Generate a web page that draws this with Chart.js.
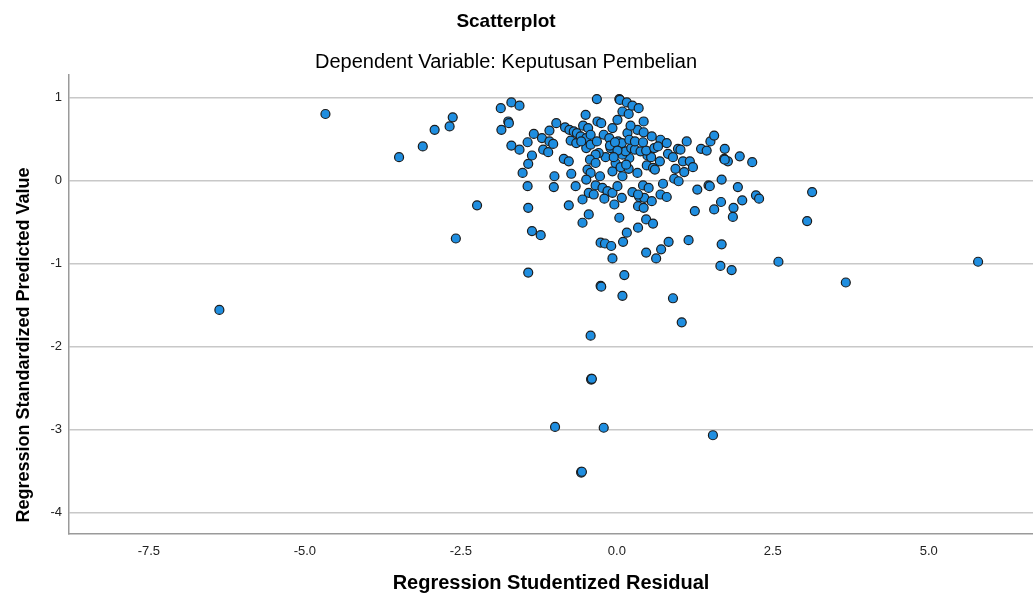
<!DOCTYPE html>
<html>
<head>
<meta charset="utf-8">
<title>Scatterplot</title>
<script src="https://cdn.jsdelivr.net/npm/chart.js@4/dist/chart.umd.min.js"></script>
<style>
  html, body { margin: 0; padding: 0; background: #fff; }
  #wrap { width: 1033px; height: 600px; }
</style>
</head>
<body>
<div id="wrap"><canvas id="scatter" width="1033" height="600"></canvas></div>
<script>
// Scatterplot of studentized residuals vs standardized predicted values
const TITLE = "Scatterplot";
const SUBTITLE = "Dependent Variable: Keputusan Pembelian";
const X_TITLE = "Regression Studentized Residual";
const Y_TITLE = "Regression Standardized Predicted Value";

const xTicks = [-7.5, -5.0, -2.5, 0.0, 2.5, 5.0];
const yTicks = [-4, -3, -2, -1, 0, 1];

// one entry per case
const residuals = [
  -6.37, -4.67, -3.49, -3.11, -2.92, -2.68, -2.63, -2.24, -2.58,
  -1.86, -1.69, -1.56, -1.74, -1.73, -1.85, -1.69, -1.56, -1.43, -1.33, -1.36, -1.42, -1.51, -1.43, -1.42, -1.36, -1.22, -1.42,
  -1.20, -1.08, -1.02, -1.18, -1.10, -1.08, -0.97, -0.85, -0.77, -1.00, -1.01, -0.73, -0.66, -0.77,
  -0.83, -0.76, -0.69, -0.64, -0.74, -0.65, -0.58, -0.50, -0.54, -0.46, -0.49, -0.42, -0.49, -0.42, -0.32, -0.31, -0.25, -0.32,
  -0.21, -0.12, -0.07, 0.01, -0.10, -0.18, -0.29, -0.34, -0.43, -0.34, -0.47, -0.42, -0.49, -0.34, -0.23, -0.15, -0.07, -0.45,
  -0.37, -0.55, -0.20, -0.04, -0.45, -0.55, -0.27, -0.07, -0.02, 0.06, 0.01, 0.09, 0.08, 0.04, -0.26, -0.19, -0.09, -0.07,
  0.12, 0.10, 0.16, 0.34, 0.47, 0.58, 0.47, 0.63, 0.71, 0.83, 1.15, 1.25, 1.29, 1.47, 1.49, 1.68, 1.56, 1.67, 1.87, 1.86,
  1.94, 2.01, 2.23, 2.28, 1.68, 1.66, 1.84, 2.59,
  0.34, 0.43, 0.36, 0.44, 0.56, 0.25, 0.34, 0.42, 0.51, 0.74, 0.70, 0.80, 0.33, 0.48, 0.58, 0.61, 0.69, 0.49, 0.55, 0.19,
  0.20, 0.09, 0.14, 0.23, 0.29, 0.38, 0.47, 0.60, 0.17, 0.02, 0.08, 0.20, 0.29, 0.33, 0.43, 0.42, 0.56, 0.70, 0.80, 0.22,
  0.43, 0.09, 0.19, 0.04, 0.05, 0.16, 0.25, 0.35, 0.82, 0.90, 0.98, 1.02, 1.12, 1.06, 1.17, 1.22, 0.94, 0.92, 0.99, 1.08,
  1.35, 1.44, 1.50, 1.56, 1.73, 1.72, 1.78, 1.97, 2.17, -0.11, -0.03, 0.01, 1.73, -0.05, 0.15, 0.66, -0.57,
  -0.26, -0.25, 0.09, 0.90, 1.04, 3.13, 3.05, 5.79, 3.67, 1.54, -0.42, -0.41, -0.41, -0.40, -0.99, -0.21, -0.57, -0.57, -0.56
];
const predicted = [
  -1.56, 0.80, 0.28, 0.41, 0.61, 0.65, 0.76, -0.30, -0.70,
  0.87, 0.94, 0.90, 0.71, 0.69, 0.61, 0.42, 0.37, 0.46, 0.56, 0.30, 0.20, 0.09, -0.07, -0.33, -0.61, -0.66, -1.11,
  0.51, 0.47, 0.44, 0.37, 0.34, 0.60, 0.69, 0.26, 0.23, 0.05, -0.08, 0.08, -0.07, -0.30,
  0.64, 0.61, 0.59, 0.57, 0.48, 0.45, 0.53, 0.79, 0.66, 0.63, 0.51, 0.55, 0.39, 0.43, 0.98, 0.71, 0.69, 0.47,
  0.55, 0.51, 0.63, 0.73, 0.39, 0.28, 0.33, 0.31, 0.25, 0.21, 0.13, 0.09, 0.01, -0.06, -0.09, -0.13, -0.15, -0.15,
  -0.17, -0.23, -0.22, -0.29, -0.41, -0.51, 0.05, 0.11, 0.21, 0.16, -0.07, 0.05, -0.21, -0.45, -0.75, -0.76, -0.79, -0.94,
  -1.14, -0.74, -0.63, -0.57, -0.47, -0.52, -0.87, -0.94, -0.83, -0.74, -0.72, -0.37, -0.11, -0.06, -0.07, 0.01, -0.35, -0.26, -0.33, -0.44,
  -0.08, -0.24, -0.18, -0.22, -0.77, -1.03, -1.08, -0.98,
  -0.31, -0.33, -0.20, -0.21, -0.25, -0.14, -0.17, -0.06, -0.09, -0.04, -0.17, -0.20, 0.09, 0.18, 0.15, 0.13, 0.23, 0.30, 0.28, 0.14,
  0.27, 0.31, 0.35, 0.39, 0.37, 0.35, 0.36, 0.39, 0.57, 0.47, 0.45, 0.49, 0.47, 0.61, 0.58, 0.46, 0.53, 0.49, 0.45, 0.66,
  0.71, 0.83, 0.80, 0.98, 0.97, 0.94, 0.90, 0.87, 0.32, 0.28, 0.38, 0.37, 0.47, 0.23, 0.23, 0.16, 0.14, 0.02, -0.01, 0.10,
  0.38, 0.36, 0.47, 0.54, 0.38, 0.26, 0.23, 0.29, 0.22, 0.42, 0.46, 0.36, 0.25, 0.28, 0.19, 0.41, 0.47,
  -1.27, -1.28, -1.39, -1.42, -1.71, -0.14, -0.49, -0.98, -1.23, -3.07, -1.87, -2.39, -2.40, -2.39, -2.97, -2.98, -3.51, -3.52, -3.51
];

const FONT = '"Liberation Sans", Arial, sans-serif';

const titlesPlugin = {
  id: "spssTitles",
  afterDraw(chart) {
    const ctx = chart.ctx;
    ctx.save();
    ctx.fillStyle = "#000";
    ctx.textAlign = "center";
    ctx.textBaseline = "middle";
    ctx.font = "bold 19px " + FONT;
    ctx.fillText(TITLE, 506, 22);
    ctx.font = "20px " + FONT;
    ctx.fillText(SUBTITLE, 506, 62);
    // y title sits a bit below the plot centre in the original
    ctx.font = "bold 18px " + FONT;
    ctx.translate(24, 345);
    ctx.rotate(-Math.PI / 2);
    ctx.fillText(Y_TITLE, 0, 0);
    ctx.restore();
  }
};

const points = residuals.map((x, i) => ({ x, y: predicted[i] }));

new Chart(document.getElementById("scatter"), {
  type: "scatter",
  data: {
    datasets: [{
      data: points,
      pointRadius: 4.5,
      pointHoverRadius: 4.5,
      pointBackgroundColor: "#1f8ee0",
      pointBorderColor: "#1c1c1c",
      pointBorderWidth: 1.2
    }]
  },
  options: {
    responsive: false,
    animation: false,
    layout: { autoPadding: false, padding: { top: 75, left: 0, right: 0, bottom: 0 } },
    plugins: { legend: { display: false }, tooltip: { enabled: false } },
    scales: {
      x: {
        type: "linear",
        min: -8.78,
        max: 6.67,
        afterBuildTicks: s => { s.ticks = xTicks.map(v => ({ value: v })); },
        afterFit: s => { s.height = 66; },
        grid: { display: false, drawTicks: false },
        border: { display: true, color: "#9a9a9a", width: 1.5 },
        ticks: {
          padding: 10,
          color: "#222",
          font: { family: FONT, size: 13 },
          callback: v => Number(v).toFixed(1)
        },
        title: {
          display: true,
          text: X_TITLE,
          color: "#000",
          font: { family: FONT, size: 20, weight: "bold" },
          padding: { top: 0, bottom: 5 }
        }
      },
      y: {
        type: "linear",
        min: -4.26,
        max: 1.27,
        afterBuildTicks: s => { s.ticks = yTicks.map(v => ({ value: v })); },
        afterFit: s => { s.width = 69; },
        grid: { color: "#c8c8c8", lineWidth: 1.5, drawTicks: false },
        border: { display: true, color: "#9a9a9a", width: 1.5 },
        ticks: {
          padding: 7,
          color: "#222",
          font: { family: FONT, size: 13 },
          callback: v => String(v)
        }
      }
    }
  },
  plugins: [titlesPlugin]
});
</script>
</body>
</html>
